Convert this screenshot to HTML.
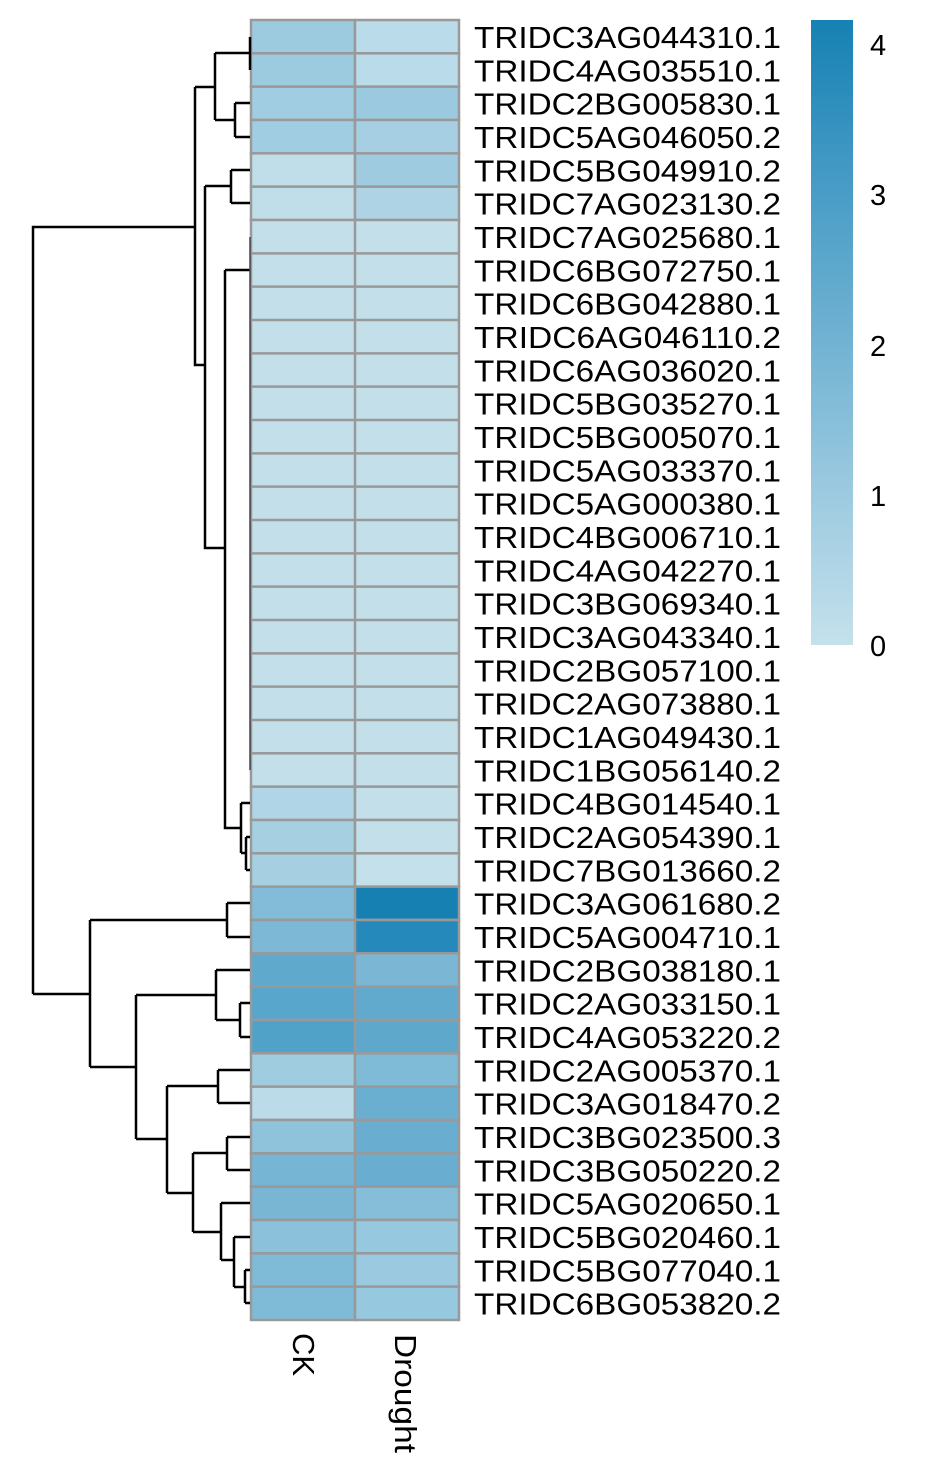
<!DOCTYPE html>
<html><head><meta charset="utf-8"><style>html,body{margin:0;padding:0;background:#fff}svg{display:block}</style></head><body>
<svg width="930" height="1481" xmlns="http://www.w3.org/2000/svg" font-family="Liberation Sans, sans-serif">
<defs><linearGradient id="g" x1="0" y1="1" x2="0" y2="0">
<stop offset="0" stop-color="#c4e1ec"/><stop offset="0.24" stop-color="#9dcae0"/><stop offset="0.48" stop-color="#72b3d3"/><stop offset="0.72" stop-color="#4a9dc7"/><stop offset="1" stop-color="#1681b3"/></linearGradient></defs>
<g stroke="#999" stroke-width="2.5">
<rect x="251" y="20" width="104" height="33.33" fill="#9ccbe0"/><rect x="355" y="20" width="104" height="33.33" fill="#b9dbea"/>
<rect x="251" y="53.33" width="104" height="33.33" fill="#9ccbe0"/><rect x="355" y="53.33" width="104" height="33.33" fill="#b9dbea"/>
<rect x="251" y="86.67" width="104" height="33.33" fill="#a0cde1"/><rect x="355" y="86.67" width="104" height="33.33" fill="#9bc9df"/>
<rect x="251" y="120" width="104" height="33.33" fill="#a0cde1"/><rect x="355" y="120" width="104" height="33.33" fill="#a6cfe3"/>
<rect x="251" y="153.33" width="104" height="33.33" fill="#c0deea"/><rect x="355" y="153.33" width="104" height="33.33" fill="#9fcbe0"/>
<rect x="251" y="186.67" width="104" height="33.33" fill="#c0deea"/><rect x="355" y="186.67" width="104" height="33.33" fill="#aed3e5"/>
<rect x="251" y="220" width="208" height="533.33" fill="#c2dfea"/>
<rect x="251" y="753.33" width="104" height="33.33" fill="#c2dfea"/><rect x="355" y="753.33" width="104" height="33.33" fill="#c2dfea"/>
<rect x="251" y="786.67" width="104" height="33.33" fill="#b0d5e6"/><rect x="355" y="786.67" width="104" height="33.33" fill="#c2dfea"/>
<rect x="251" y="820" width="104" height="33.33" fill="#a6cfe2"/><rect x="355" y="820" width="104" height="33.33" fill="#c2dfea"/>
<rect x="251" y="853.33" width="104" height="33.33" fill="#a6cfe2"/><rect x="355" y="853.33" width="104" height="33.33" fill="#c4e0eb"/>
<rect x="251" y="886.67" width="104" height="33.33" fill="#82bcd8"/><rect x="355" y="886.67" width="104" height="33.33" fill="#1680b3"/>
<rect x="251" y="920" width="104" height="33.33" fill="#7db9d6"/><rect x="355" y="920" width="104" height="33.33" fill="#2589bb"/>
<rect x="251" y="953.33" width="104" height="33.33" fill="#5fa9cd"/><rect x="355" y="953.33" width="104" height="33.33" fill="#7bb7d5"/>
<rect x="251" y="986.67" width="104" height="33.33" fill="#58a6cb"/><rect x="355" y="986.67" width="104" height="33.33" fill="#62aacd"/>
<rect x="251" y="1020" width="104" height="33.33" fill="#51a2c9"/><rect x="355" y="1020" width="104" height="33.33" fill="#5ea8cc"/>
<rect x="251" y="1053.33" width="104" height="33.33" fill="#a0cce0"/><rect x="355" y="1053.33" width="104" height="33.33" fill="#7fbad7"/>
<rect x="251" y="1086.67" width="104" height="33.33" fill="#bbdbe9"/><rect x="355" y="1086.67" width="104" height="33.33" fill="#6aafd0"/>
<rect x="251" y="1120" width="104" height="33.33" fill="#8fc3dc"/><rect x="355" y="1120" width="104" height="33.33" fill="#69aed0"/>
<rect x="251" y="1153.33" width="104" height="33.33" fill="#76b5d4"/><rect x="355" y="1153.33" width="104" height="33.33" fill="#69aed0"/>
<rect x="251" y="1186.67" width="104" height="33.33" fill="#78b6d4"/><rect x="355" y="1186.67" width="104" height="33.33" fill="#86bed9"/>
<rect x="251" y="1220" width="104" height="33.33" fill="#8bc1db"/><rect x="355" y="1220" width="104" height="33.33" fill="#96c8df"/>
<rect x="251" y="1253.33" width="104" height="33.33" fill="#7fbad7"/><rect x="355" y="1253.33" width="104" height="33.33" fill="#9bc9df"/>
<rect x="251" y="1286.67" width="104" height="33.33" fill="#7fbad7"/><rect x="355" y="1286.67" width="104" height="33.33" fill="#96c8df"/>
</g>
<g stroke="#999" stroke-width="2.5">
<line x1="355" y1="220" x2="355" y2="753"/>
<line x1="251" y1="253.33" x2="459" y2="253.33"/><line x1="251" y1="286.67" x2="459" y2="286.67"/><line x1="251" y1="320" x2="459" y2="320"/><line x1="251" y1="353.33" x2="459" y2="353.33"/><line x1="251" y1="386.67" x2="459" y2="386.67"/><line x1="251" y1="420" x2="459" y2="420"/><line x1="251" y1="453.33" x2="459" y2="453.33"/><line x1="251" y1="486.67" x2="459" y2="486.67"/><line x1="251" y1="520" x2="459" y2="520"/><line x1="251" y1="553.33" x2="459" y2="553.33"/><line x1="251" y1="586.67" x2="459" y2="586.67"/><line x1="251" y1="620" x2="459" y2="620"/><line x1="251" y1="653.33" x2="459" y2="653.33"/><line x1="251" y1="686.67" x2="459" y2="686.67"/><line x1="251" y1="720" x2="459" y2="720"/>
</g>
<g stroke="#000" stroke-width="2.5" fill="none">
<path d="M33 994V227H195M33 994H90"/>
<path d="M195 87V365H205M195 87H215M215 53V120M215 53H250M215 120H235M235 103V137M235 103H250M235 137H250M250 37V70"/>
<path d="M205 186V548H225M205 186H231M231 170V203M231 170H250M231 203H250"/>
<path d="M225 270V828H241M225 270H250M241 803V853M241 803H250M241 853H246M246 837V870M246 837H250M246 870H250"/>
<path d="M90 920V1067M90 920H227M227 903V937M227 903H250M227 937H250"/>
<path d="M90 1067H136M136 995V1139M136 995H216M216 970V1020M216 970H250M216 1020H240M240 1003V1037M240 1003H250M240 1037H250"/>
<path d="M136 1139H167M167 1086V1193M167 1086H218M218 1070V1103M218 1070H250M218 1103H250"/>
<path d="M167 1193H193M193 1153V1232M193 1153H227M227 1137V1170M227 1137H250M227 1170H250"/>
<path d="M193 1232H221M221 1203V1260M221 1203H250M221 1260H234M234 1237V1287M234 1237H250M234 1287H245M245 1270V1303M245 1270H250M245 1303H250"/>
</g>
<path d="M250 237V770" stroke="#444" stroke-width="1.5"/>
<g font-size="31" fill="#000" lengthAdjust="spacingAndGlyphs">
<text x="474" y="48" textLength="307" lengthAdjust="spacingAndGlyphs">TRIDC3AG044310.1</text>
<text x="474" y="81.3" textLength="307" lengthAdjust="spacingAndGlyphs">TRIDC4AG035510.1</text>
<text x="474" y="114.7" textLength="307" lengthAdjust="spacingAndGlyphs">TRIDC2BG005830.1</text>
<text x="474" y="148" textLength="307" lengthAdjust="spacingAndGlyphs">TRIDC5AG046050.2</text>
<text x="474" y="181.3" textLength="307" lengthAdjust="spacingAndGlyphs">TRIDC5BG049910.2</text>
<text x="474" y="214.7" textLength="307" lengthAdjust="spacingAndGlyphs">TRIDC7AG023130.2</text>
<text x="474" y="248" textLength="307" lengthAdjust="spacingAndGlyphs">TRIDC7AG025680.1</text>
<text x="474" y="281.3" textLength="307" lengthAdjust="spacingAndGlyphs">TRIDC6BG072750.1</text>
<text x="474" y="314.7" textLength="307" lengthAdjust="spacingAndGlyphs">TRIDC6BG042880.1</text>
<text x="474" y="348" textLength="307" lengthAdjust="spacingAndGlyphs">TRIDC6AG046110.2</text>
<text x="474" y="381.3" textLength="307" lengthAdjust="spacingAndGlyphs">TRIDC6AG036020.1</text>
<text x="474" y="414.7" textLength="307" lengthAdjust="spacingAndGlyphs">TRIDC5BG035270.1</text>
<text x="474" y="448" textLength="307" lengthAdjust="spacingAndGlyphs">TRIDC5BG005070.1</text>
<text x="474" y="481.3" textLength="307" lengthAdjust="spacingAndGlyphs">TRIDC5AG033370.1</text>
<text x="474" y="514.7" textLength="307" lengthAdjust="spacingAndGlyphs">TRIDC5AG000380.1</text>
<text x="474" y="548" textLength="307" lengthAdjust="spacingAndGlyphs">TRIDC4BG006710.1</text>
<text x="474" y="581.3" textLength="307" lengthAdjust="spacingAndGlyphs">TRIDC4AG042270.1</text>
<text x="474" y="614.7" textLength="307" lengthAdjust="spacingAndGlyphs">TRIDC3BG069340.1</text>
<text x="474" y="648" textLength="307" lengthAdjust="spacingAndGlyphs">TRIDC3AG043340.1</text>
<text x="474" y="681.3" textLength="307" lengthAdjust="spacingAndGlyphs">TRIDC2BG057100.1</text>
<text x="474" y="714.7" textLength="307" lengthAdjust="spacingAndGlyphs">TRIDC2AG073880.1</text>
<text x="474" y="748" textLength="307" lengthAdjust="spacingAndGlyphs">TRIDC1AG049430.1</text>
<text x="474" y="781.3" textLength="307" lengthAdjust="spacingAndGlyphs">TRIDC1BG056140.2</text>
<text x="474" y="814.7" textLength="307" lengthAdjust="spacingAndGlyphs">TRIDC4BG014540.1</text>
<text x="474" y="848" textLength="307" lengthAdjust="spacingAndGlyphs">TRIDC2AG054390.1</text>
<text x="474" y="881.3" textLength="307" lengthAdjust="spacingAndGlyphs">TRIDC7BG013660.2</text>
<text x="474" y="914.7" textLength="307" lengthAdjust="spacingAndGlyphs">TRIDC3AG061680.2</text>
<text x="474" y="948" textLength="307" lengthAdjust="spacingAndGlyphs">TRIDC5AG004710.1</text>
<text x="474" y="981.3" textLength="307" lengthAdjust="spacingAndGlyphs">TRIDC2BG038180.1</text>
<text x="474" y="1014.7" textLength="307" lengthAdjust="spacingAndGlyphs">TRIDC2AG033150.1</text>
<text x="474" y="1048" textLength="307" lengthAdjust="spacingAndGlyphs">TRIDC4AG053220.2</text>
<text x="474" y="1081.3" textLength="307" lengthAdjust="spacingAndGlyphs">TRIDC2AG005370.1</text>
<text x="474" y="1114.7" textLength="307" lengthAdjust="spacingAndGlyphs">TRIDC3AG018470.2</text>
<text x="474" y="1148" textLength="307" lengthAdjust="spacingAndGlyphs">TRIDC3BG023500.3</text>
<text x="474" y="1181.3" textLength="307" lengthAdjust="spacingAndGlyphs">TRIDC3BG050220.2</text>
<text x="474" y="1214.7" textLength="307" lengthAdjust="spacingAndGlyphs">TRIDC5AG020650.1</text>
<text x="474" y="1248" textLength="307" lengthAdjust="spacingAndGlyphs">TRIDC5BG020460.1</text>
<text x="474" y="1281.3" textLength="307" lengthAdjust="spacingAndGlyphs">TRIDC5BG077040.1</text>
<text x="474" y="1314.7" textLength="307" lengthAdjust="spacingAndGlyphs">TRIDC6BG053820.2</text>
</g>
<text font-size="31" transform="translate(293,1333) rotate(90)">CK</text>
<text font-size="31" transform="translate(395,1334) rotate(90)" textLength="119" lengthAdjust="spacingAndGlyphs">Drought</text>
<rect x="811" y="20" width="42" height="625" fill="url(#g)"/>
<g font-size="29" fill="#000">
<text x="870" y="55">4</text>
<text x="870" y="205">3</text>
<text x="870" y="356">2</text>
<text x="870" y="506">1</text>
<text x="870" y="656">0</text>
</g>
</svg>
</body></html>
